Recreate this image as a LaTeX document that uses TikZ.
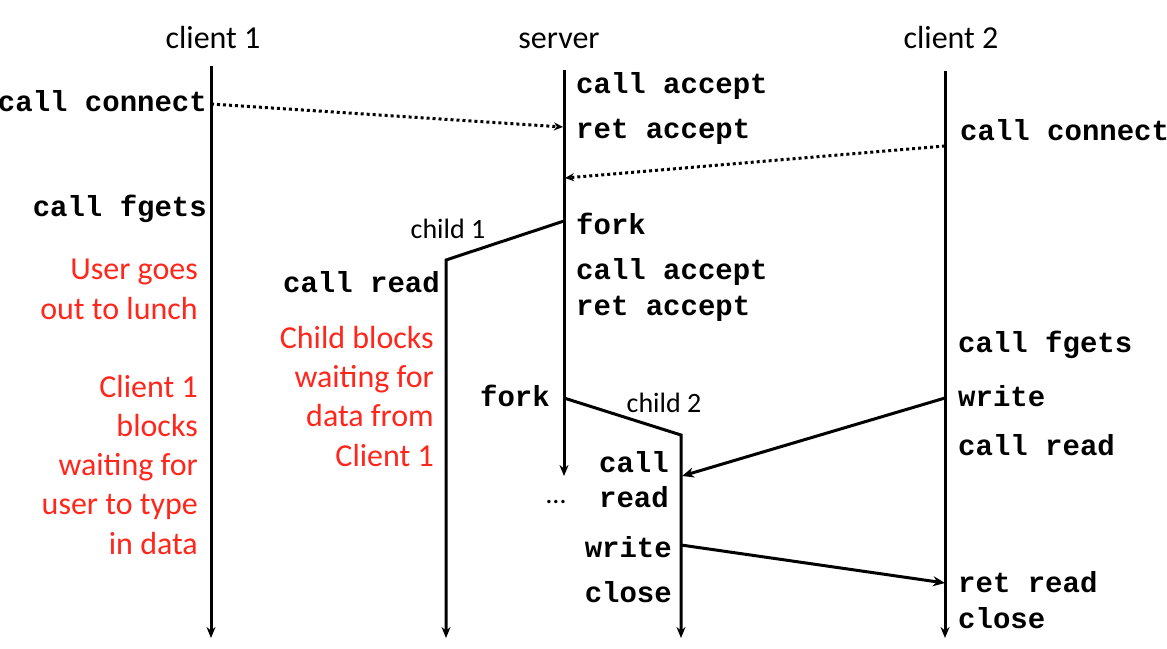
\documentclass[tikz,border=0pt]{standalone}
\usepackage{fontspec}
\setmainfont{Carlito}
\newfontfamily\codefont{Liberation Mono}
\usetikzlibrary{arrows.meta}
\definecolor{noteRed}{RGB}{255,38,28}
\tikzset{
  life/.style={line width=3pt, -{Stealth[length=11pt,width=9pt]}},
  msgdot/.style={line width=3pt, dash pattern=on 3pt off 3pt, -{Stealth[length=9pt,width=8pt]}},
  msg/.style={line width=3pt, -{Stealth[length=12pt,width=10pt]}},
  code/.style={inner sep=0pt, font=\codefont\bfseries\fontsize{29}{35}\selectfont},
  head/.style={inner sep=0pt, anchor=base, font=\fontsize{32}{39}\selectfont},
  small/.style={inner sep=0pt, anchor=base, font=\fontsize{28}{34}\selectfont},
  note/.style={inner sep=0pt, align=right, anchor=base east, text=noteRed, font=\fontsize{32}{39.2}\selectfont},
}
\begin{document}
\begin{tikzpicture}[x=1pt,y=-1pt]
\useasboundingbox (0,0) rectangle (1167,648);
% lifeline coordinates
\coordinate (c1top) at (211,66);
\coordinate (c1bot) at (211,638);
\coordinate (svtop) at (564,70);
\coordinate (svbot) at (564,476);
\coordinate (c2top) at (945,71);
\coordinate (c2bot) at (945,638);
\coordinate (fk1) at (564,221);
\coordinate (ch1top) at (446,260);
\coordinate (ch1bot) at (446,638);
\coordinate (fk2) at (564,398);
\coordinate (ch2top) at (681,435);
\coordinate (ch2bot) at (681,638);
% message end points
\coordinate (m1a) at (211,104);
\coordinate (m1b) at (563,127);
\coordinate (m2a) at (945,146);
\coordinate (m2b) at (565,178);
\coordinate (m3a) at (945,398);
\coordinate (m3b) at (682,476);
\coordinate (m4a) at (681,545);
\coordinate (m4b) at (945,583);
% headers
\node[head] (h1) at (213,48) {client 1};
\node[head] (h2) at (559,48) {server};
\node[head] (h3) at (951,48) {client 2};
% lifelines
\draw[life] (c1top) -- (c1bot);
\draw[life] (svtop) -- (svbot);
\draw[life] (c2top) -- (c2bot);
\draw[life] (fk1) -- (ch1top) -- (ch1bot);
\draw[life] (fk2) -- (ch2top) -- (ch2bot);
% messages
\draw[msgdot] (m1a) -- (m1b);
\draw[msgdot] (m2a) -- (m2b);
\draw[msg] (m3a) -- (m3b);
\draw[msg] (m4a) -- (m4b);
% client 1 labels
\node[code, anchor=base east] (c1a) at (207,111) {call connect};
\node[code, anchor=base east] (c1b) at (207,216) {call fgets};
\node[note] (n1) at (198,319) {User goes\\out to lunch};
\node[note] (n2) at (198,554) {Client 1\\blocks\\waiting for\\user to type\\in data};
% child 1
\node[small] (k1) at (448,238) {child 1};
\node[code, anchor=base east] (r1) at (440,292) {call read};
\node[note] (n3) at (434,466) {Child blocks\\waiting for\\data from\\Client 1};
% server labels
\node[code, anchor=base west] (s1) at (576,93) {call accept};
\node[code, anchor=base west] (s2) at (576,138) {ret accept};
\node[code, anchor=base west] (s3) at (576,234) {fork};
\node[code, anchor=base west] (s4) at (576,279) {call accept};
\node[code, anchor=base west] (s5) at (576,315) {ret accept};
\node[code, anchor=base east] (s6) at (550,406) {fork};
% child 2
\node[small] (k2) at (664,412) {child 2};
\node[code, anchor=base east] (r2) at (669,472) {call};
\node[code, anchor=base east] (r3) at (669,507) {read};
\node[small] (dots) at (556,503) {…};
\node[code, anchor=base east] (w2) at (672,557) {write};
\node[code, anchor=base east] (x2) at (672,602) {close};
% client 2 labels
\node[code, anchor=base west] (d1) at (960,140) {call connect};
\node[code, anchor=base west] (d2) at (958,352) {call fgets};
\node[code, anchor=base west] (d3) at (958,406) {write};
\node[code, anchor=base west] (d4) at (958,455) {call read};
\node[code, anchor=base west] (d5) at (958,592) {ret read};
\node[code, anchor=base west] (d6) at (958,628) {close};
\end{tikzpicture}
\end{document}
